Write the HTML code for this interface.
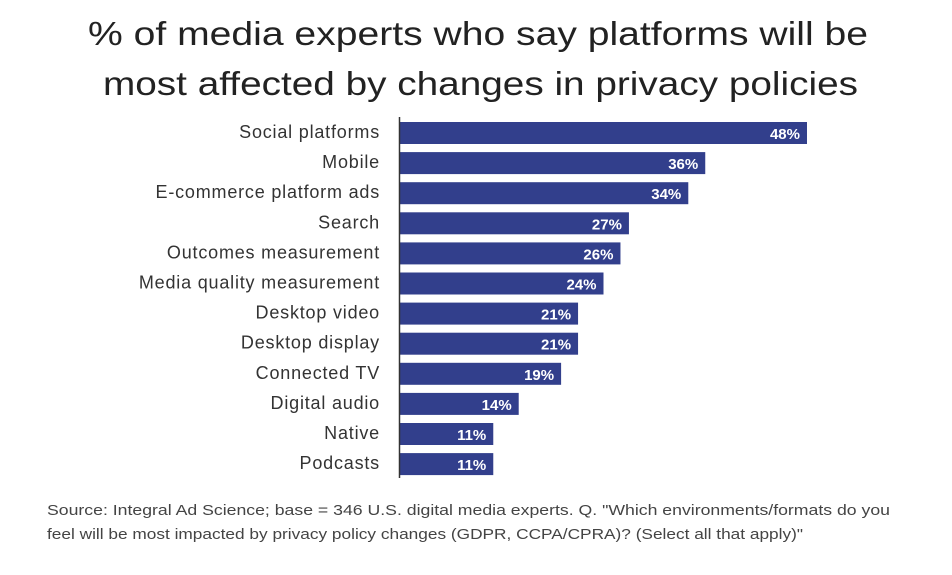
<!DOCTYPE html>
<html><head><meta charset="utf-8"><style>
body{margin:0;background:#fff;width:952px;height:570px;overflow:hidden;font-family:"Liberation Sans",sans-serif;}
</style></head><body>
<svg width="952" height="570">
<text x="88" y="45" textLength="780" lengthAdjust="spacingAndGlyphs" font-size="33" fill="#222">% of media experts who say platforms will be</text>
<text x="103" y="95" textLength="755" lengthAdjust="spacingAndGlyphs" font-size="33" fill="#222">most affected by changes in privacy policies</text>
<g id="bars"></g>
<line x1="399.5" y1="117" x2="399.5" y2="478" stroke="#333" stroke-width="1.5"/>
<text x="47" y="515" textLength="843" lengthAdjust="spacingAndGlyphs" font-size="14.5" fill="#444">Source: Integral Ad Science; base = 346 U.S. digital media experts. Q. "Which environments/formats do you</text>
<text x="47" y="539" textLength="756" lengthAdjust="spacingAndGlyphs" font-size="14.5" fill="#444">feel will be most impacted by privacy policy changes (GDPR, CCPA/CPRA)? (Select all that apply)"</text>
</svg>
<script>
const categories=["Social platforms","Mobile","E-commerce platform ads","Search","Outcomes measurement","Media quality measurement","Desktop video","Desktop display","Connected TV","Digital audio","Native","Podcasts"];
const values=[48,36,34,27,26,24,21,21,19,14,11,11];
const x0=400,pxPer=407/48,y0=122,step=30.1,bh=22;
const xs=v=>x0+v*pxPer, ys=i=>y0+i*step;
const g=document.getElementById('bars');const NS="http://www.w3.org/2000/svg";
categories.forEach((c,i)=>{
 const r=document.createElementNS(NS,'rect');
 r.setAttribute('x',x0);r.setAttribute('y',ys(i));r.setAttribute('width',xs(values[i])-x0);r.setAttribute('height',bh);r.setAttribute('fill','#323f8c');
 
 
 g.appendChild(r);
 const v=document.createElementNS(NS,'text');
 v.setAttribute('x',xs(values[i])-7);v.setAttribute('y',ys(i)+17);v.setAttribute('text-anchor','end');v.setAttribute('font-size','15');v.setAttribute('font-weight','bold');v.setAttribute('fill','#fff');
 v.textContent=values[i]+'%';
 
 
 g.appendChild(v);
 const t=document.createElementNS(NS,'text');
 t.setAttribute('x',380);t.setAttribute('y',ys(i)+16);t.setAttribute('text-anchor','end');t.setAttribute('font-size','18');t.setAttribute('letter-spacing','0.8');t.setAttribute('fill','#333');
 t.textContent=c;
 
 
 g.appendChild(t);
});
</script>
</body></html>
